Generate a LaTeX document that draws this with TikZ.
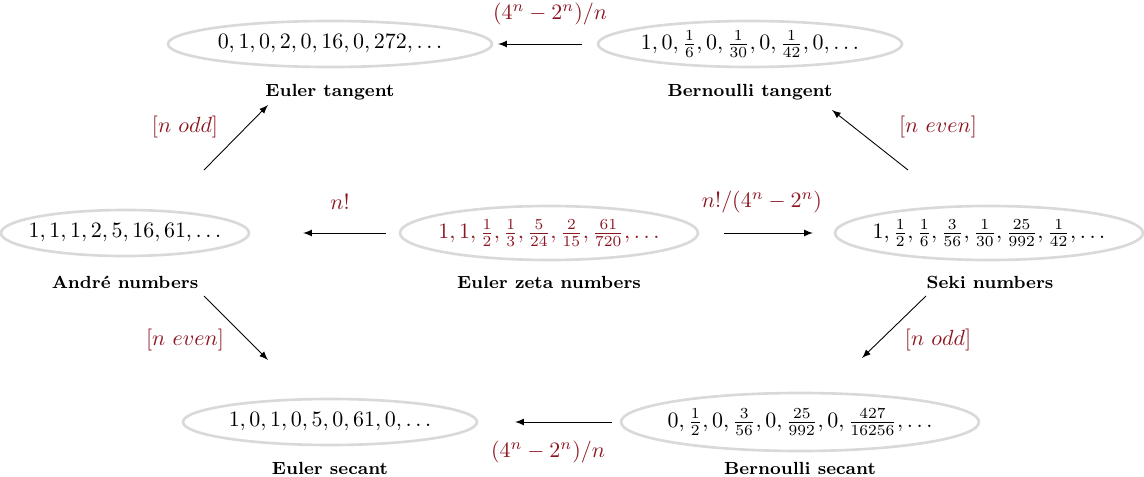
\documentclass[tikz,border=0pt]{standalone}
\usepackage{amsmath, amssymb}
\usepackage{xcolor}
\definecolor{seqred}{RGB}{140,22,32}
\tikzset{
  seq/.style={inner sep=1pt},
  ring/.style={draw=gray!30, line width=1.2pt},
  name label/.style={font=\footnotesize\bfseries},
  map/.style={-latex},
  maplabel/.style={text=seqred}
}
\begin{document}
\begin{tikzpicture}[x=0.016cm, y=-0.016cm]
\useasboundingbox (0,0) rectangle (1144,477);

\node[seq] (etan) at (330,44) {$0,1,0,2,0,16,0,272,\ldots$};
\node[seq] (btan) at (750,44) {$1,0,\frac16,0,\frac1{30},0,\frac1{42},0,\ldots$};
\node[seq] (andre) at (125,233) {$1,1,1,2,5,16,61,\ldots$};
\node[seq] (zeta) at (549,233) {\color{seqred}$1,1,\frac12,\frac13,\frac5{24},\frac2{15},\frac{61}{720},\ldots$};
\node[seq] (seki) at (989,233) {$1,\frac12,\frac16,\frac3{56},\frac1{30},\frac{25}{992},\frac1{42},\ldots$};
\node[seq] (esec) at (330,422) {$1,0,1,0,5,0,61,0,\ldots$};
\node[seq] (bsec) at (800,422) {$0,\frac12,0,\frac3{56},0,\frac{25}{992},0,\frac{427}{16256},\ldots$};

\draw[ring] (etan) ellipse (162 and 23);
\draw[ring] (btan) ellipse (152 and 23);
\draw[ring] (andre) ellipse (124 and 23);
\draw[ring] (zeta) ellipse (149 and 27);
\draw[ring] (seki) ellipse (154 and 27);
\draw[ring] (esec) ellipse (147 and 23);
\draw[ring] (bsec) ellipse (179 and 29);

\node[name label] (etanname) at (330,92) {Euler tangent};
\node[name label] (btanname) at (750,92) {Bernoulli tangent};
\node[name label] (andrename) at (125,282) {Andr\'e numbers};
\node[name label] (zetaname) at (549,282) {Euler zeta numbers};
\node[name label] (sekiname) at (990,282) {Seki numbers};
\node[name label] (esecname) at (330,468) {Euler secant};
\node[name label] (bsecname) at (800,468) {Bernoulli secant};

% arrow ends
\coordinate (a1) at (582,44);  \coordinate (b1) at (498,44);
\coordinate (a2) at (386,233); \coordinate (b2) at (303,233);
\coordinate (a3) at (724,233); \coordinate (b3) at (813,233);
\coordinate (a4) at (204,170); \coordinate (b4) at (268,105);
\coordinate (a5) at (908,170); \coordinate (b5) at (832,110);
\coordinate (a6) at (204,296); \coordinate (b6) at (268,360);
\coordinate (a7) at (926,296); \coordinate (b7) at (862,358);
\coordinate (a8) at (612,422); \coordinate (b8) at (515,422);

\draw[map] (a1) -- (b1);
\draw[map] (a2) -- (b2);
\draw[map] (a3) -- (b3);
\draw[map] (a4) -- (b4);
\draw[map] (a5) -- (b5);
\draw[map] (a6) -- (b6);
\draw[map] (a7) -- (b7);
\draw[map] (a8) -- (b8);

\node[maplabel] (l1) at (550,14) {$(4^n-2^n)/n$};
\node[maplabel] (l2) at (340,202) {$n!$};
\node[maplabel] (l3) at (762,202) {$n!/(4^n-2^n)$};
\node[maplabel] (l4) at (185,127) {$[n~odd]$};
\node[maplabel] (l5) at (938,127) {$[n~even]$};
\node[maplabel] (l6) at (185,340) {$[n~even]$};
\node[maplabel] (l7) at (938,340) {$[n~odd]$};
\node[maplabel] (l8) at (548,452) {$(4^n-2^n)/n$};
\end{tikzpicture}
\end{document}
